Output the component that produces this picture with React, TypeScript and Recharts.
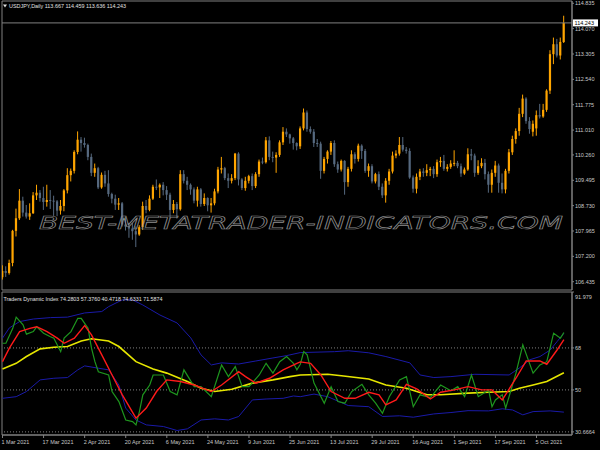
import React from 'react';
import {
  ComposedChart,
  Bar,
  Line,
  XAxis,
  YAxis,
  ReferenceLine,
  ReferenceArea,
} from 'recharts';

// USDJPY daily bars, 1 Mar 2021 .. 15 Oct 2021 (one entry per bar)
const OPEN = [
  // Mar
  106.57, 106.76, 106.7, 107.0, 107.97, 108.35, 108.88, 108.52, 108.4, 108.5, 109.04, 109.12, 108.96, 108.84, 108.9, 108.88, 108.86, 108.58, 108.72, 109.19, 109.65, 109.78, 110.35,
  // Apr
  110.72, 110.62, 110.56, 110.2, 109.72, 109.86, 109.28, 109.66, 109.4, 109.08, 108.94, 108.76, 108.8, 108.16, 108.1, 108.04, 107.96, 107.86, 108.08, 108.72, 108.6, 108.94,
  // May
  109.3, 109.28, 109.36, 109.2, 109.06, 108.6, 108.78, 108.62, 109.68, 109.48, 109.36, 109.22, 108.88, 109.22, 108.78, 108.96, 108.74, 108.8, 109.16, 109.82, 109.86,
  // Jun
  109.56, 109.48, 109.56, 110.3, 109.52, 109.26, 109.48, 109.62, 109.32, 109.68, 110.06, 110.04, 110.7, 110.2, 110.18, 110.26, 110.64, 110.96, 110.88, 110.76, 110.62, 110.52,
  // Jul
  111.06, 111.54, 111.04, 110.96, 110.62, 110.6, 109.78, 110.14, 110.36, 110.62, 109.98, 109.82, 110.08, 109.44, 109.84, 110.28, 110.14, 110.54, 110.38, 109.78, 109.92, 109.46,
  // Aug
  109.68, 109.3, 109.04, 109.48, 109.76, 110.24, 110.3, 110.56, 110.42, 110.38, 109.58, 109.24, 109.6, 109.76, 109.72, 109.8, 109.84, 109.68, 110.04, 110.08, 109.84, 109.9,
  // Sep
  110.0, 110.02, 109.92, 109.7, 109.82, 110.28, 110.24, 109.72, 109.92, 110.02, 109.68, 109.36, 109.72, 109.94, 109.42, 109.22, 109.78, 110.34, 110.74, 110.98, 111.5, 111.96,
  // Oct
  111.28, 110.96, 111.06, 111.46, 111.42, 111.62, 112.2, 113.3, 113.6, 113.26, 113.667,
];
const HIGH = [
  106.93, 106.9, 107.1, 108.0, 108.64, 109.23, 109.0, 108.75, 108.8, 109.14, 109.36, 109.2, 109.3, 109.36, 109.2, 109.03, 108.9, 108.9, 109.23, 109.86, 109.85, 110.4, 110.97,
  110.8, 110.78, 110.6, 110.3, 110.0, 109.9, 109.73, 109.78, 109.8, 109.12, 109.06, 108.96, 108.84, 108.4, 108.2, 108.2, 108.1, 108.14, 108.85, 108.9, 109.04, 109.36,
  109.52, 109.4, 109.44, 109.32, 109.12, 108.9, 108.84, 109.8, 109.8, 109.6, 109.4, 109.28, 109.3, 109.26, 109.1, 108.98, 108.96, 109.24, 109.9, 110.2, 109.9,
  109.7, 109.68, 110.32, 110.34, 109.56, 109.6, 109.66, 109.7, 109.74, 110.12, 110.18, 110.8, 110.82, 110.36, 110.34, 110.7, 111.1, 111.06, 110.9, 110.8, 110.64, 111.12,
  111.66, 111.6, 111.12, 111.04, 110.74, 110.66, 110.2, 110.4, 110.68, 110.7, 110.06, 110.12, 110.1, 109.9, 110.4, 110.34, 110.6, 110.58, 110.44, 110.0, 109.98, 109.72,
  109.76, 109.4, 109.56, 109.84, 110.36, 110.4, 110.8, 110.8, 110.5, 110.46, 109.64, 109.7, 109.84, 109.86, 109.98, 109.9, 109.92, 110.12, 110.2, 110.26, 109.98, 110.1,
  110.4, 110.08, 110.0, 109.88, 110.46, 110.44, 110.3, 110.1, 110.16, 110.14, 109.76, 109.82, 110.08, 110.0, 109.7, 109.84, 110.44, 110.84, 111.06, 111.68, 112.08, 112.0,
  111.4, 111.3, 111.6, 111.8, 111.8, 112.24, 113.42, 113.8, 113.76, 113.8, 114.459,
];
const LOW = [
  106.5, 106.58, 106.65, 106.9, 107.8, 108.3, 108.4, 108.34, 108.3, 108.48, 108.9, 108.85, 108.6, 108.7, 108.63, 108.42, 108.41, 108.46, 108.56, 109.1, 109.46, 109.7, 110.28,
  110.36, 110.48, 110.1, 109.62, 109.6, 109.23, 109.24, 109.3, 109.0, 108.8, 108.6, 108.6, 108.1, 107.98, 107.76, 107.7, 107.48, 107.82, 108.0, 108.5, 108.56, 108.9,
  109.2, 108.96, 109.04, 108.9, 108.34, 108.5, 108.34, 108.58, 109.4, 109.2, 109.06, 108.8, 108.7, 108.7, 108.72, 108.56, 108.52, 108.74, 109.1, 109.7, 109.5,
  109.26, 109.4, 109.5, 109.34, 109.2, 109.18, 109.4, 109.2, 109.26, 109.6, 109.98, 110.0, 110.1, 110.04, 109.72, 110.2, 110.56, 110.8, 110.6, 110.42, 110.4, 110.44,
  111.0, 110.96, 110.9, 110.5, 110.5, 109.54, 109.7, 110.0, 110.26, 109.9, 109.72, 109.76, 109.06, 109.3, 109.76, 110.0, 110.06, 110.14, 109.72, 109.6, 109.4, 109.4,
  109.2, 108.96, 108.82, 109.36, 109.7, 110.16, 110.24, 110.36, 110.3, 109.54, 109.12, 109.1, 109.5, 109.6, 109.62, 109.62, 109.56, 109.6, 109.9, 109.78, 109.76, 109.84,
  109.92, 109.86, 109.6, 109.66, 109.78, 110.1, 109.6, 109.66, 109.86, 109.52, 109.12, 109.12, 109.6, 109.12, 109.1, 109.1, 109.7, 110.26, 110.6, 110.84, 111.4, 111.2,
  110.9, 110.82, 110.84, 111.36, 111.38, 111.56, 112.1, 113.0, 113.2, 113.14, 113.636,
];
const CLOSE = [
  106.76, 106.7, 107.0, 107.97, 108.35, 108.88, 108.52, 108.4, 108.5, 109.04, 109.12, 108.96, 108.84, 108.9, 108.88, 108.86, 108.58, 108.72, 109.19, 109.65, 109.78, 110.35, 110.72,
  110.62, 110.56, 110.2, 109.72, 109.86, 109.28, 109.66, 109.4, 109.08, 108.94, 108.76, 108.8, 108.16, 108.1, 108.04, 107.96, 107.86, 108.08, 108.72, 108.6, 108.94, 109.3,
  109.28, 109.36, 109.2, 109.06, 108.6, 108.78, 108.62, 109.68, 109.48, 109.36, 109.22, 108.88, 109.22, 108.78, 108.96, 108.74, 108.8, 109.16, 109.82, 109.86, 109.56,
  109.48, 109.56, 110.3, 109.52, 109.26, 109.48, 109.62, 109.32, 109.68, 110.06, 110.04, 110.7, 110.2, 110.18, 110.26, 110.64, 110.96, 110.88, 110.76, 110.62, 110.52, 111.06,
  111.54, 111.04, 110.96, 110.62, 110.6, 109.78, 110.14, 110.36, 110.62, 109.98, 109.82, 110.08, 109.44, 109.84, 110.28, 110.14, 110.54, 110.38, 109.78, 109.92, 109.46, 109.68,
  109.3, 109.04, 109.48, 109.76, 110.24, 110.3, 110.56, 110.42, 110.38, 109.58, 109.24, 109.6, 109.76, 109.72, 109.8, 109.84, 109.68, 110.04, 110.08, 109.84, 109.9, 110.0,
  110.02, 109.92, 109.7, 109.82, 110.28, 110.24, 109.72, 109.92, 110.02, 109.68, 109.36, 109.72, 109.94, 109.42, 109.22, 109.78, 110.34, 110.74, 110.98, 111.5, 111.96, 111.28,
  111.04, 111.2, 111.46, 111.42, 111.62, 112.2, 113.3, 113.6, 113.26, 113.67, 114.243,
];

const PRICE_TICKS = [114.835, 114.07, 113.305, 112.54, 111.775, 111.01, 110.26, 109.495, 108.73, 107.965, 107.2, 106.435];

// bar index -> date label along the bottom
const DATE_TICKS = [0, 12, 24, 36, 48, 60, 72, 84, 96, 108, 120, 132, 144, 156];
const DATE_LABELS = [
  '1 Mar 2021', '17 Mar 2021', '2 Apr 2021', '20 Apr 2021', '6 May 2021', '24 May 2021', '9 Jun 2021',
  '25 Jun 2021', '13 Jul 2021', '29 Jul 2021', '16 Aug 2021', '1 Sep 2021', '17 Sep 2021', '5 Oct 2021',
];

// Traders Dynamic Index, [bar index, value] vertices
const TDI_UPPER: [number, number][] = [
  [0, 72.2], [2, 76.6], [5, 79.3], [9, 80.4], [14, 81.0], [19, 81.2], [24, 83.0], [29, 83.6], [31, 85.7], [35, 88.6],
  [38, 88.6], [41, 86.4], [46, 82.1], [51, 78.7], [55, 72.3], [58, 65.0], [61, 60.7], [64, 61.6], [69, 61.1], [74, 62.4],
  [79, 63.7], [83, 64.7], [87, 66.0], [97, 66.4], [101, 66.8], [107, 65.9], [112, 64.3], [119, 61.6], [122, 56.4], [126, 55.3],
  [131, 55.7], [138, 56.7], [148, 56.4], [151, 59.4], [154, 62.9], [157, 64.3], [160, 67.1], [162, 70.7], [164, 74.2803],
];
const TDI_BASE: [number, number][] = [
  [0, 59.0], [4, 61.4], [7, 64.3], [11, 67.6], [15, 68.3], [19, 68.6], [23, 71.0], [26, 71.9], [31, 71.0], [34, 68.6],
  [39, 62.1], [44, 59.0], [48, 57.2], [54, 53.6], [58, 50.7], [62, 49.3], [67, 50.3], [73, 52.9], [79, 54.3], [84, 55.7],
  [87, 56.4], [95, 56.7], [99, 56.1], [107, 54.7], [112, 52.1], [118, 50.7], [124, 47.9], [128, 47.9], [136, 48.6], [142, 49.0],
  [148, 49.3], [151, 50.7], [155, 52.1], [159, 53.6], [164, 57.376],
];
const TDI_LOWER: [number, number][] = [
  [0, 46.4], [4, 47.1], [7, 49.3], [11, 54.3], [15, 55.0], [19, 55.3], [22, 58.6], [24, 60.3], [28, 59.3], [31, 58.6],
  [34, 52.1], [36, 42.2], [39, 37.1], [42, 35.0], [47, 34.3], [51, 32.6], [54, 33.3], [58, 37.1], [62, 37.6], [66, 37.1],
  [69, 38.6], [73, 45.7], [77, 46.1], [82, 46.4], [85, 47.4], [87, 47.1], [91, 48.2], [95, 47.1], [101, 43.3], [107, 42.8],
  [111, 38.6], [116, 38.9], [120, 38.3], [126, 39.7], [131, 40.3], [136, 41.1], [142, 41.0], [146, 41.9], [149, 41.4], [152, 39.3],
  [155, 40.7], [160, 41.0], [164, 40.4718],
];
const TDI_PRICE: [number, number][] = [
  [0, 70.0], [1, 70.0], [3, 76.4], [4, 81.2], [6, 77.9], [7, 73.9], [9, 75.0], [10, 77.1], [12, 74.3], [14, 72.8],
  [15, 72.2], [17, 66.4], [18, 72.2], [20, 75.0], [22, 80.7], [23, 80.7], [25, 76.4], [26, 67.9], [27, 62.1], [28, 57.8],
  [31, 56.4], [32, 49.3], [34, 45.0], [36, 37.1], [38, 36.4], [39, 35.0], [40, 40.7], [41, 47.9], [43, 52.1], [44, 56.4],
  [47, 56.4], [49, 49.3], [51, 47.9], [53, 58.6], [56, 51.4], [58, 51.4], [61, 47.1], [64, 60.7], [66, 55.7], [68, 60.0],
  [70, 51.4], [72, 51.4], [75, 56.4], [77, 61.4], [79, 57.2], [81, 62.1], [83, 64.3], [85, 61.4], [86, 58.6], [87, 61.0],
  [88, 66.4], [89, 65.0], [91, 52.9], [94, 44.3], [96, 51.4], [98, 45.0], [100, 44.3], [102, 49.3], [105, 52.4], [107, 47.9],
  [109, 44.3], [111, 40.0], [113, 47.1], [116, 54.3], [118, 55.7], [120, 42.8], [122, 47.9], [125, 46.7], [128, 52.1], [131, 49.6],
  [133, 51.4], [135, 47.1], [137, 56.4], [139, 47.1], [142, 50.0], [143, 42.8], [144, 45.7], [146, 47.9], [147, 42.2], [150, 57.2],
  [152, 69.3], [155, 57.2], [157, 60.7], [159, 62.1], [161, 74.3], [163, 72.2], [164, 74.6331],
];
const TDI_SIGNAL: [number, number][] = [
  [0, 62.1], [2, 67.9], [5, 75.0], [8, 76.4], [10, 77.1], [13, 75.0], [16, 72.2], [18, 70.0], [21, 72.2], [24, 77.6],
  [26, 73.6], [29, 65.0], [32, 56.4], [35, 47.9], [39, 37.9], [42, 42.2], [45, 49.3], [48, 54.3], [52, 53.6], [56, 52.1],
  [61, 49.3], [64, 52.1], [69, 57.8], [71, 55.7], [74, 52.9], [78, 55.0], [82, 58.6], [86, 61.4], [87, 62.0], [90, 61.4],
  [93, 56.4], [96, 49.3], [100, 46.4], [103, 46.4], [107, 49.0], [110, 47.9], [112, 43.6], [115, 45.7], [118, 52.4], [121, 50.4],
  [125, 46.1], [128, 49.0], [132, 50.0], [136, 51.4], [140, 50.0], [143, 50.0], [146, 45.7], [150, 55.0], [153, 62.4], [157, 62.4],
  [159, 61.0], [162, 67.1], [164, 71.5874],
];
const TDI_LEVELS = [68, 50, 32];
const TDI_TICKS = [91.979, 68, 50, 32];

const X_MIN = -0.146;
const X_MAX = 166.37;
const PRICE_MIN = 106.185;
const PRICE_MAX = 114.904;
const TDI_MIN = 30.6664;
const TDI_MAX = 91.979;

const BULL = '#ffa500';
const BEAR = '#56697f';
const FRAME = '#808080';
const AXIS_TEXT = '#c8c8c8';
const FONT = '"Liberation Sans", Arial, sans-serif';
const FS = 5.5;

const last = CLOSE.length - 1;

const candles = CLOSE.map((close, i) => ({
  i,
  open: OPEN[i],
  high: HIGH[i],
  low: LOW[i],
  close,
  range: [LOW[i], HIGH[i]],
}));

const toPoints = (pts: [number, number][]) => pts.map(([i, v]) => ({ i, v }));

function Candle(props: any) {
  const { x, y, width, height, payload } = props;
  if (!payload || !height) return null;
  const { open, high, low, close } = payload;
  const k = height / (high - low);
  const cx = x + width / 2;
  const yOpen = y + (high - open) * k;
  const yClose = y + (high - close) * k;
  const color = close >= open ? BULL : BEAR;
  const top = Math.min(yOpen, yClose);
  const h = Math.max(Math.abs(yClose - yOpen), 1);
  return (
    <g>
      <line x1={cx} x2={cx} y1={y} y2={y + height} stroke={color} strokeWidth={1} />
      <rect x={cx - 1.1} y={top} width={2.2} height={h} fill={color} />
    </g>
  );
}

function PriceTag(props: any) {
  const { viewBox } = props;
  if (!viewBox) return null;
  const x = viewBox.x + viewBox.width + 1;
  return (
    <g>
      <rect x={x} y={viewBox.y - 3.5} width={25} height={7} fill="#ffffff" />
      <text x={x + 1.5} y={viewBox.y} dy="0.355em" fontSize={FS} fontFamily={FONT} fill="#000000">
        {CLOSE[last].toFixed(3)}
      </text>
    </g>
  );
}

function PriceTick(props: any) {
  const { x, y, payload } = props;
  return (
    <text x={x} y={y} dy="0.355em" textAnchor="start" fontSize={FS} fontFamily={FONT} fill={AXIS_TEXT}>
      {Number(payload.value).toFixed(3)}
    </text>
  );
}

function TdiTick(props: any) {
  const { x, y, payload } = props;
  const v = payload.value;
  let label = String(v);
  let shift = 0;
  if (v === TDI_MAX) {
    label = TDI_MAX.toFixed(3);
    shift = 5.5;
  } else if (v === 32) {
    label = TDI_MIN.toFixed(4);
  }
  return (
    <text x={x} y={y + shift} dy="0.355em" textAnchor="start" fontSize={FS} fontFamily={FONT} fill={AXIS_TEXT}>
      {label}
    </text>
  );
}

function DateTick(props: any) {
  const { x, y, payload } = props;
  const idx = DATE_TICKS.indexOf(payload.value);
  return (
    <text x={x - 1} y={y} dy="0.71em" textAnchor="start" fontSize={FS} fontFamily={FONT} fill={AXIS_TEXT}>
      {DATE_LABELS[idx]}
    </text>
  );
}

export default function App() {
  const title = `USDJPY,Daily  ${OPEN[last].toFixed(3)} ${HIGH[last].toFixed(3)} ${LOW[last].toFixed(3)} ${CLOSE[last].toFixed(3)}`;
  const lastOf = (pts: [number, number][]) => pts[pts.length - 1][1].toFixed(4);
  const tdiTitle = `Traders Dynamic Index ${lastOf(TDI_UPPER)} ${lastOf(TDI_BASE)} ${lastOf(TDI_LOWER)} ${lastOf(TDI_PRICE)} ${lastOf(TDI_SIGNAL)}`;

  return (
    <div style={{ position: 'absolute', left: 0, top: 0, width: 600, height: 450, background: '#000000', overflow: 'hidden' }}>
      <div style={{ position: 'absolute', left: 0, top: 0 }}>
        <ComposedChart width={600} height={291} data={candles} margin={{ top: 1, right: 0, bottom: 1, left: 2 }}>
          <XAxis dataKey="i" type="number" domain={[X_MIN, X_MAX]} allowDataOverflow hide />
          <YAxis
            orientation="right"
            width={28}
            domain={[PRICE_MIN, PRICE_MAX]}
            allowDataOverflow
            ticks={PRICE_TICKS}
            interval={0}
            tick={<PriceTick />}
            tickSize={2}
            tickMargin={1}
            axisLine={{ stroke: FRAME }}
            tickLine={{ stroke: FRAME }}
          />
          <ReferenceArea x1={X_MIN} x2={X_MAX} y1={PRICE_MIN} y2={PRICE_MAX} fill="none" stroke={FRAME} />
          <ReferenceLine y={CLOSE[last]} stroke={FRAME} strokeWidth={1} label={<PriceTag />} />
          <Bar dataKey="range" barSize={3} shape={<Candle />} isAnimationActive={false} />
        </ComposedChart>
      </div>

      <div style={{ position: 'absolute', left: 0, top: 291 }}>
        <ComposedChart width={600} height={159} margin={{ top: 1, right: 0, bottom: 0, left: 2 }}>
          <XAxis
            dataKey="i"
            type="number"
            domain={[X_MIN, X_MAX]}
            allowDataOverflow
            ticks={DATE_TICKS}
            interval={0}
            height={15}
            tick={<DateTick />}
            tickSize={3}
            tickMargin={2}
            axisLine={{ stroke: FRAME }}
            tickLine={{ stroke: FRAME }}
          />
          <YAxis
            orientation="right"
            width={28}
            domain={[TDI_MIN, TDI_MAX]}
            allowDataOverflow
            ticks={TDI_TICKS}
            interval={0}
            tick={<TdiTick />}
            tickSize={2}
            tickMargin={1}
            axisLine={{ stroke: FRAME }}
            tickLine={{ stroke: FRAME }}
          />
          <ReferenceArea x1={X_MIN} x2={X_MAX} y1={TDI_MIN} y2={TDI_MAX} fill="none" stroke={FRAME} />
          {TDI_LEVELS.map((lv) => (
            <ReferenceLine key={lv} y={lv} stroke={FRAME} strokeDasharray="1 2" />
          ))}
          <Line data={toPoints(TDI_UPPER)} dataKey="v" type="linear" dot={false} stroke="#1a1aa8" strokeWidth={1} isAnimationActive={false} />
          <Line data={toPoints(TDI_LOWER)} dataKey="v" type="linear" dot={false} stroke="#1a1aa8" strokeWidth={1} isAnimationActive={false} />
          <Line data={toPoints(TDI_BASE)} dataKey="v" type="linear" dot={false} stroke="#e6e600" strokeWidth={1.6} isAnimationActive={false} />
          <Line data={toPoints(TDI_PRICE)} dataKey="v" type="linear" dot={false} stroke="#1e961e" strokeWidth={1.2} isAnimationActive={false} />
          <Line data={toPoints(TDI_SIGNAL)} dataKey="v" type="linear" dot={false} stroke="#ff1a1a" strokeWidth={1.4} isAnimationActive={false} />
        </ComposedChart>
      </div>

      <svg width={600} height={450} style={{ position: 'absolute', left: 0, top: 0, pointerEvents: 'none' }}>
        <polygon points="3,4.5 7,4.5 5,7.5" fill="#e0e0e0" />
        <text x={9} y={8} fontSize={FS} fontFamily={FONT} fill="#e0e0e0" textLength={117} lengthAdjust="spacingAndGlyphs">
          {title}
        </text>
        <text x={3.5} y={301} fontSize={FS} fontFamily={FONT} fill="#e0e0e0" textLength={159} lengthAdjust="spacingAndGlyphs">
          {tdiTitle}
        </text>
        <text
          x={39}
          y={229}
          fontSize={18}
          fontFamily='"DejaVu Sans", sans-serif'
          fontStyle="italic"
          fill="none"
          stroke="#8c8c8c"
          strokeWidth={0.6}
          textLength={524}
          lengthAdjust="spacingAndGlyphs"
        >
          BEST-METATRADER-INDICATORS.COM
        </text>
      </svg>
    </div>
  );
}
